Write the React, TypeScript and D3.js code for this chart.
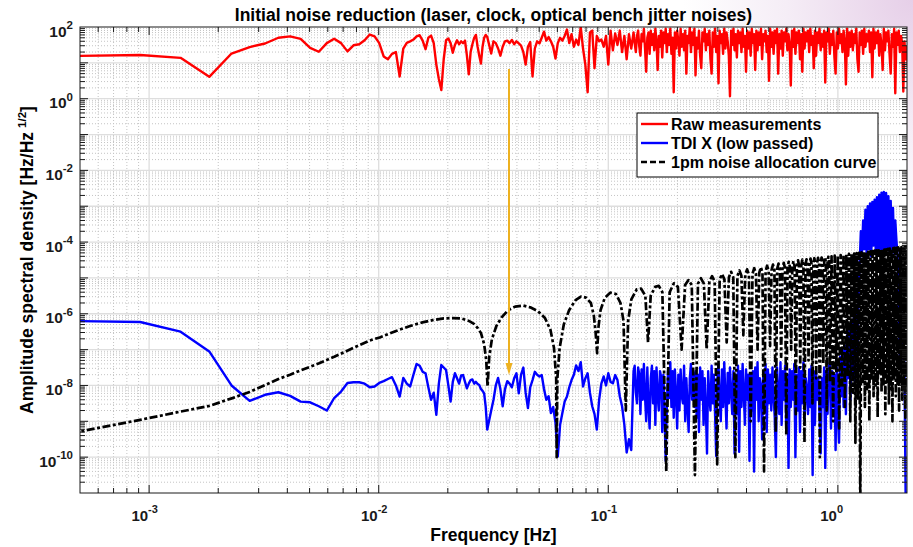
import * as d3 from 'd3';

const WIDTH = 913;
const HEIGHT = 547;
const PLOT = { left: 80, right: 907, top: 27, bottom: 493 };
const FONT = '"Liberation Sans", Arial, Helvetica, sans-serif';

// frequency sampling: first 65 FFT bins, then two log-spaced stretches
const BIN_WIDTH = 4.57e-4;
const MID_LOG_START = -1.51;
const MID_LOG_STEP = 0.01;
const HIGH_LOG_START = -0.89;
const HIGH_LOG_STEP = 0.005;

// log10 of the amplitude spectral density
const RAW_LOW = [
  1.19, 1.22, 1.14, 0.61, 1.26, 1.44, 1.54, 1.7, 1.74, 1.67,
  1.42, 1.31, 1.55, 1.67, 1.55, 1.32, 1.49, 1.52, 1.63, 1.79,
  1.74, 1.55, 1.18, 1.1, 1.25, 1.3, 0.62, 1.4, 1.56, 1.6,
  1.65, 1.74, 1.77, 1.62, 1.38, 1.7, 1.76, 1.55, 0.95, 0.55,
  0.24, 1.1, 1.63, 1.68, 1.55, 1.28, 1.5, 1.63, 1.52, 1.6,
  1.55, 1.62, 1.2, 0.68, 1.3, 1.52, 1.7, 1.78, 1.45, 1.2,
  0.98, 1.45, 1.7, 1.78, 1.72,
];
const RAW_MID = [
  1.26, 1.6, 1.55, 1.4, 1.2, 1.45, 1.6, 1.62, 1.55, 1.64,
  1.52, 1.6, 1.54, 1.48, 1.3, 0.95, 1.45, 1.58, 0.62, 1.4,
  1.6, 1.54, 1.7, 1.87, 1.62, 1.72, 1.6, 1.45, 1.12, 1.55,
  1.7, 1.62, 1.75, 1.93, 1.55, 1.8, 1.45, 1.65, 1.5, 2.0,
  1.4, 0.95, 0.18, 1.85, 1.9, 0.85, 1.75, 1.6, 1.65, 1.45,
  1.75, 0.95, 1.9, 1.35, 1.82, 1.5, 1.9, 1.3, 1.75, 1.1,
  1.8, 1.4,
];
const RAW_HIGH = [
  1.85, 1.55, 1.3, 1.75, 1.9, 1.45, 1.2, 1.8, 1.6, 1.95,
  1.4, 0.75, 1.7, 1.85, 1.25, 1.9, 1.5, 1.8, 1.35, 1.95,
  1.6, 0.8, 1.75, 1.45, 1.9, 1.15, 1.85, 1.55, 1.95, 1.3,
  1.8, 1.5, 1.95, 1.25, 1.7, 0.18, 1.85, 1.4, 1.9, 1.6,
  1.2, 1.95, 1.45, 1.8, 1.35, 1.9, 0.7, 1.75, 1.55, 2.0,
  1.3, 1.85, 1.5, 1.95, 0.65, 1.7, 1.4, 1.9, 1.2, 0.85,
  1.85, 1.6, 1.95, 1.35, 1.8, 1.5, 1.9, 1.1, 0.7, 1.85,
  1.45, 1.95, 1.3, 1.75, 0.43, 1.9, 1.55, 1.8, 1.25, 1.95,
  1.4, 1.85, 1.6, 1.2, 0.07, 1.9, 1.5, 1.95, 1.35, 1.8,
  1.15, 1.9, 1.55, 1.85, 1.3, 1.95, 1.45, 1.75, 0.75, 1.9,
  1.4, 1.85, 1.2, 1.95, 1.55, 1.8, 0.8, 1.9, 1.35, 1.85,
  1.5, 1.95, 1.1, 1.8, 1.6, 1.9, 1.3, 1.75, 0.5, 1.95,
  1.45, 1.85, 1.25, 1.9, 1.55, 1.95, 0.7, 1.8, 1.4, 1.9,
  1.2, 1.85, 1.6, 1.95, 1.35, 1.8, 1.5, 0.37, 1.9, 1.45,
  1.95, 1.25, 1.85, 1.55, 1.9, 1.1, 1.8, 0.75, 1.95, 1.4,
  1.85, 1.6, 1.9, 1.3, 1.95, 1.5, 1.75, 0.85, 1.9, 1.2,
  1.85, 1.55, 1.95, 1.35, 1.8, 1.45, 1.9, 0.45, 1.85, 1.6,
  1.95, 1.25, 1.8, 1.5, 1.9, 1.15, 0.7, 1.85, 1.4, 1.95,
  1.55, 1.8, 1.3, 1.9, 1.6, 0.4, 1.95, 1.2, 1.85, 1.45,
  1.9, 1.35, 1.8, 1.55, 1.95, 1.1, 0.75, 1.85, 1.5, 1.9,
  1.25, 1.95, 1.45, 1.8, 1.6, 1.9, 1.3, 1.85, 0.6, 1.95,
  1.4, 1.85, 1.55, 1.9, 1.2, 1.8, 1.5, 0.8, 1.95, 1.35,
  1.85, 1.6, 1.9, 1.25, 0.7, 1.8, 1.45, 1.95, 0.15, 1.85,
  1.5, 1.9, 1.3, 1.75, 1.55, 0.2, 1.6, 1.1, 1.45, 0.9,
];

const TDI_LOW = [
  -6.2, -6.23, -6.5, -7.05, -8.0, -8.43, -8.26, -8.19, -8.29, -8.45,
  -8.47, -8.58, -8.7, -8.35, -8.17, -7.93, -7.91, -7.91, -7.95, -8.05,
  -8.03, -7.93, -7.88, -7.82, -7.77, -8.0, -8.31, -7.79, -7.95, -8.03,
  -7.7, -7.4, -7.45, -7.62, -7.66, -8.05, -8.4, -8.2, -8.82, -7.95,
  -7.43, -7.5, -7.57, -8.0, -8.45, -7.9, -7.66, -7.8, -7.95, -7.72,
  -7.71, -7.9, -8.08, -7.95, -7.85, -7.83, -7.95, -7.9, -7.96, -7.99,
  -8.1, -8.15, -8.22, -8.6, -9.23,
];
const TDI_MID = [
  -8.7, -8.4, -8.0, -7.79, -8.1, -8.58, -8.1, -7.88, -7.95, -8.05,
  -7.8, -7.66, -8.22, -7.7, -7.5, -8.2, -8.63, -8.05, -7.85, -7.62,
  -7.7, -7.75, -7.71, -8.1, -8.4, -8.3, -8.77, -8.6, -9.04, -9.98,
  -9.1, -8.77, -8.45, -8.31, -8.05, -7.85, -7.7, -7.44, -7.6, -7.35,
  -8.03, -7.8, -7.66, -8.2, -8.58, -8.8, -9.23, -8.4, -7.94, -7.75,
  -8.0, -7.66, -7.9, -7.94, -7.71, -7.85, -8.3, -8.58, -9.1, -9.87,
  -9.5, -9.8,
];
const TDI_HIGH = [
  -7.6, -7.45, -8.2, -8.5, -7.5, -7.7, -8.8, -7.55, -8.4, -7.4,
  -8.3, -9.0, -7.5, -8.6, -9.2, -7.8, -7.45, -8.5, -7.6, -9.1,
  -7.5, -8.3, -8.7, -7.6, -7.75, -9.3, -7.7, -8.8, -10.1, -8.6,
  -7.6, -8.35, -7.35, -8.6, -7.6, -8.9, -7.55, -8.25, -9.2, -7.7,
  -8.7, -7.55, -8.3, -8.5, -7.45, -9.0, -7.8, -8.6, -9.3, -7.8,
  -7.4, -8.4, -7.65, -8.6, -7.6, -8.9, -7.7, -9.3, -7.5, -8.4,
  -7.6, -9.1, -7.8, -8.7, -9.9, -7.6, -8.3, -8.7, -7.45, -8.5,
  -7.7, -8.8, -9.97, -7.8, -7.4, -8.4, -9.0, -7.55, -8.6, -7.35,
  -8.3, -9.2, -7.65, -8.5, -7.5, -8.2, -8.8, -7.6, -9.9, -7.7,
  -8.8, -7.45, -9.85, -7.6, -8.6, -7.4, -8.2, -9.1, -7.55, -8.4,
  -7.7, -10.1, -7.7, -8.7, -7.6, -10.4, -7.5, -8.4, -7.35, -9.0,
  -7.8, -8.0, -9.5, -7.6, -8.6, -7.4, -9.3, -7.55, -8.5, -7.7,
  -8.7, -7.5, -8.3, -8.9, -10.0, -7.5, -8.2, -8.8, -7.35, -9.1,
  -7.6, -8.4, -7.45, -9.2, -7.7, -10.3, -7.55, -8.6, -7.6, -8.4,
  -7.4, -10.0, -7.7, -8.7, -7.5, -9.3, -7.6, -8.5, -7.35, -9.0,
  -7.8, -8.1, -8.8, -7.55, -8.6, -7.45, -10.5, -7.6, -9.1, -7.6,
  -8.4, -7.8, -8.8, -9.9, -7.8, -8.6, -7.5, -10.3, -7.6, -8.8,
  -7.5, -7.35, -9.2, -7.6, -8.6, -7.7, -9.8, -7.5, -8.8, -9.6,
  -7.2, -8.3, -7.0, -8.6, -6.9, -8.8, -6.6, -7.8, -6.4, -8.4,
  -6.2, -7.6, -6.0, -7.9, -5.8, -7.2, -5.5, -4.6, -3.7, -4.3,
  -3.4, -4.2, -3.1, -4.3, -3.0, -4.2, -2.92, -4.4, -2.88, -4.1,
  -2.82, -4.3, -2.75, -4.2, -2.68, -4.4, -2.62, -4.2, -2.6, -4.3,
  -2.63, -4.2, -2.72, -4.3, -2.85, -4.2, -3.05, -4.3, -3.4, -3.95,
  -4.4, -6.0, -7.2, -5.9, -7.4, -6.5, -7.6, -11.0, -11.0, -11.0,
];

// 1pm allocation: [frequency (Hz), log10 ASD]
const ALLOCATION: [number, number][] = [
  [0.000457, -9.33], [0.000914, -8.96], [0.00137, -8.73], [0.00183, -8.57], [0.00229, -8.36],
  [0.00274, -8.18], [0.0032, -7.99], [0.00366, -7.82], [0.00411, -7.7], [0.00457, -7.58],
  [0.0055, -7.38], [0.0064, -7.2], [0.0073, -7.03], [0.0082, -6.88], [0.0091, -6.75],
  [0.0101, -6.66], [0.0119, -6.48], [0.0137, -6.34], [0.0155, -6.24], [0.0174, -6.17],
  [0.0192, -6.13], [0.021, -6.12], [0.0229, -6.13], [0.0247, -6.2], [0.026, -6.28],
  [0.027, -6.4], [0.0279, -6.54], [0.0288, -6.85], [0.0294, -7.3], [0.0298, -8.03],
  [0.0303, -7.2], [0.0311, -6.72], [0.0325, -6.35], [0.0343, -6.1], [0.0366, -5.9],
  [0.0393, -5.8], [0.0425, -5.77], [0.0457, -5.82], [0.0494, -5.93], [0.053, -6.12],
  [0.056, -6.45], [0.058, -6.95], [0.0593, -7.8], [0.0596, -10.0],
  [0.06, -7.8], [0.0614, -6.95], [0.064, -6.3], [0.0675, -5.9], [0.072, -5.62],
  [0.076, -5.52], [0.08, -5.55], [0.084, -5.7], [0.0865, -6.05], [0.088, -6.5], [0.0894, -7.1],
  [0.0905, -6.4], [0.0925, -5.9], [0.0965, -5.56], [0.102, -5.41], [0.108, -5.45],
  [0.113, -5.7], [0.1165, -6.2], [0.1192, -8.7],
  [0.122, -6.2], [0.126, -5.6], [0.133, -5.32], [0.139, -5.3], [0.145, -5.5], [0.149, -6.8],
  [0.153, -5.5], [0.16, -5.25], [0.166, -5.22], [0.172, -5.4], [0.1788, -10.4],
  [0.185, -5.4], [0.193, -5.15], [0.201, -5.25], [0.2086, -7.0],
  [0.216, -5.2], [0.2235, -5.06], [0.231, -5.2], [0.2384, -10.5],
  [0.2458, -5.16], [0.2533, -5.01], [0.2608, -5.16], [0.2682, -7.0],
  [0.2756, -5.1], [0.2831, -4.95], [0.2906, -5.1], [0.298, -10.2],
  [0.3055, -5.04], [0.3129, -4.89], [0.3204, -5.04], [0.3278, -6.8],
  [0.3353, -4.98], [0.3427, -4.83], [0.3502, -4.98], [0.3576, -10.0],
  [0.3651, -4.94], [0.3725, -4.79], [0.38, -4.94], [0.3874, -6.6],
  [0.3949, -4.91], [0.4023, -4.76], [0.4098, -4.91], [0.4172, -9.0],
  [0.4247, -4.88], [0.4321, -4.73], [0.4396, -4.88], [0.447, -7.0],
  [0.4545, -4.85], [0.4619, -4.7], [0.4694, -4.85], [0.4768, -10.4],
  [0.4843, -4.81], [0.4917, -4.66], [0.4992, -4.81], [0.5066, -6.9],
  [0.5141, -4.78], [0.5215, -4.63], [0.529, -4.78], [0.5364, -9.3],
  [0.5439, -4.75], [0.5513, -4.6], [0.5588, -4.75], [0.5662, -7.2],
  [0.5737, -4.73], [0.5811, -4.58], [0.5886, -4.73], [0.596, -9.4],
  [0.6035, -4.7], [0.6109, -4.55], [0.6184, -4.7], [0.6258, -7.0],
  [0.6333, -4.68], [0.6407, -4.53], [0.6482, -4.68], [0.6556, -8.8],
  [0.6631, -4.66], [0.6705, -4.51], [0.678, -4.66], [0.6854, -7.5],
  [0.6929, -4.64], [0.7003, -4.49], [0.7078, -4.64], [0.7152, -9.6],
  [0.7227, -4.63], [0.7301, -4.48], [0.7376, -4.63], [0.745, -7.3],
  [0.7525, -4.61], [0.7599, -4.46], [0.7674, -4.61], [0.7748, -8.5],
  [0.7823, -4.6], [0.7897, -4.45], [0.7972, -4.6], [0.8046, -7.8],
  [0.8121, -4.59], [0.8195, -4.44], [0.827, -4.59], [0.8344, -10.0],
  [0.8419, -4.58], [0.8493, -4.43], [0.8568, -4.58], [0.8642, -7.4],
  [0.8717, -4.57], [0.8791, -4.42], [0.8866, -4.57], [0.894, -8.7],
  [0.9015, -4.56], [0.9089, -4.41], [0.9164, -4.56], [0.9238, -7.9],
  [0.9387, -4.4], [0.9536, -9.0], [0.9685, -4.38], [0.9834, -7.6],
  [0.9983, -4.37], [1.0132, -9.2], [1.0281, -4.36], [1.043, -8.0],
  [1.0579, -4.35], [1.0728, -8.6], [1.0877, -4.34], [1.1026, -7.7],
  [1.1175, -4.33], [1.1324, -9.0], [1.1473, -4.33], [1.1622, -8.2],
  [1.1771, -4.32], [1.192, -9.6], [1.2069, -4.31], [1.2218, -8.4],
  [1.2367, -4.3], [1.2516, -11.5], [1.2665, -4.29], [1.2814, -7.9],
  [1.2963, -4.28], [1.3112, -8.6], [1.3261, -4.28], [1.341, -8.1],
  [1.3559, -4.27], [1.3708, -9.0], [1.3857, -4.26], [1.4006, -7.8],
  [1.4155, -4.25], [1.4304, -8.3], [1.4453, -4.24], [1.4602, -8.0],
  [1.4751, -4.23], [1.49, -8.9], [1.5049, -4.23], [1.5198, -7.7],
  [1.5347, -4.22], [1.5496, -8.2], [1.5645, -4.21], [1.5794, -8.0],
  [1.5943, -4.21], [1.6092, -8.8], [1.6241, -4.2], [1.639, -7.9],
  [1.6539, -4.19], [1.6688, -8.5], [1.6837, -4.18], [1.6986, -8.1],
  [1.7135, -4.18], [1.7284, -9.0], [1.7433, -4.17], [1.7582, -7.8],
  [1.7731, -4.16], [1.788, -8.3], [1.8029, -4.16], [1.8178, -8.0],
  [1.8327, -4.15], [1.8476, -8.7], [1.8625, -4.15], [1.8774, -7.9],
  [1.8923, -4.14], [1.9072, -8.4], [1.9221, -4.13], [1.937, -8.1],
  [1.9519, -4.13], [1.9668, -8.9], [1.9817, -4.12], [1.9966, -8.0],
  [2.0115, -4.12],
];

const X_LABEL_EXP = [-3, -2, -1, 0];
const Y_LABEL_EXP = [2, 0, -2, -4, -6, -8, -10];
const LEGEND_LABELS = ['Raw measurements', 'TDI X (low passed)', '1pm noise allocation curve'];
const SERIES_COLORS = ['#ff0000', '#0000ff', '#000000'];
const ARROW_COLOR = '#EDB120';

function spectrum(low: number[], mid: number[], high: number[]): [number, number][] {
  return [
    ...low.map((v, i) => [(i + 1) * BIN_WIDTH, 10 ** v] as [number, number]),
    ...mid.map((v, i) => [10 ** (MID_LOG_START + i * MID_LOG_STEP), 10 ** v] as [number, number]),
    ...high.map((v, i) => [10 ** (HIGH_LOG_START + i * HIGH_LOG_STEP), 10 ** v] as [number, number]),
  ];
}

function logTicks(lo: number, hi: number, kFrom: number, kTo: number) {
  const major: number[] = [];
  const minor: number[] = [];
  for (let k = kFrom; k <= kTo; k++) {
    for (let m = 1; m <= 9; m++) {
      const v = m * 10 ** k;
      if (v <= lo * 1.001 || v >= hi * 0.999) continue;
      (m === 1 ? major : minor).push(v);
    }
  }
  return { major, minor };
}

export default function App() {
  const x = d3.scaleLog().domain([5e-4, 2]).range([PLOT.left, PLOT.right]);
  const y = d3.scaleLog().domain([1e-11, 1e2]).range([PLOT.bottom, PLOT.top]);
  const line = d3
    .line<[number, number]>()
    .x((d) => x(d[0]))
    .y((d) => y(d[1]));

  const raw = spectrum(RAW_LOW, RAW_MID, RAW_HIGH);
  const tdi = spectrum(TDI_LOW, TDI_MID, TDI_HIGH);
  const alloc = ALLOCATION.map(([f, v]) => [f, 10 ** v] as [number, number]);

  const xt = logTicks(5e-4, 2, -4, 0);
  const yt = logTicks(1e-11, 1e2, -11, 1);
  const w = PLOT.right - PLOT.left;
  const h = PLOT.bottom - PLOT.top;
  const midX = (PLOT.left + PLOT.right) / 2;
  const midY = (PLOT.top + PLOT.bottom) / 2;

  const MAJOR = 8;
  const MINOR = 5;
  const axisColor = '#1a1a1a';

  return (
    <svg
      width={WIDTH}
      height={HEIGHT}
      viewBox={`0 0 ${WIDTH} ${HEIGHT}`}
      style={{ position: 'absolute', left: 0, top: 0, fontFamily: FONT }}
    >
      <defs>
        <radialGradient id="corner-glow" cx={WIDTH} cy={0} r={230} gradientUnits="userSpaceOnUse">
          <stop offset="0" stopColor="#e6cfe8" />
          <stop offset="0.55" stopColor="#f5edf6" />
          <stop offset="1" stopColor="#ffffff" />
        </radialGradient>
        <clipPath id="plot-clip">
          <rect x={PLOT.left} y={PLOT.top} width={w} height={h} />
        </clipPath>
      </defs>

      <rect width={WIDTH} height={HEIGHT} fill="url(#corner-glow)" />
      <rect x={PLOT.left} y={PLOT.top} width={w} height={h} fill="#fff" />

      {/* grid */}
      <g>
        {xt.minor.map((f) => (
          <line key={`xm${f}`} x1={x(f)} x2={x(f)} y1={PLOT.top} y2={PLOT.bottom}
            stroke="#c4c4c4" strokeWidth={1} strokeDasharray="1,2" />
        ))}
        {yt.minor.map((v) => (
          <line key={`ym${v}`} x1={PLOT.left} x2={PLOT.right} y1={y(v)} y2={y(v)}
            stroke="#c4c4c4" strokeWidth={1} strokeDasharray="1,2" />
        ))}
        {xt.major.map((f) => (
          <line key={`xg${f}`} x1={x(f)} x2={x(f)} y1={PLOT.top} y2={PLOT.bottom}
            stroke="#dedede" strokeWidth={1.3} />
        ))}
        {yt.major.map((v) => (
          <line key={`yg${v}`} x1={PLOT.left} x2={PLOT.right} y1={y(v)} y2={y(v)}
            stroke="#dedede" strokeWidth={1.3} />
        ))}
      </g>

      {/* series */}
      <g clipPath="url(#plot-clip)" fill="none" strokeLinejoin="round">
        <path d={line(raw) ?? ''} stroke={SERIES_COLORS[0]} strokeWidth={2.4} />
        <path d={line(tdi) ?? ''} stroke={SERIES_COLORS[1]} strokeWidth={2.4} />
        <path d={line(alloc) ?? ''} stroke={SERIES_COLORS[2]} strokeWidth={2.7}
          strokeDasharray="8,2.5,3,2.5" />
      </g>

      {/* annotation arrow */}
      <line x1={509} x2={509} y1={69} y2={364} stroke={ARROW_COLOR} strokeWidth={2} />
      <path d="M505.5,363 L512.5,363 L509,375 Z" fill={ARROW_COLOR} />

      {/* axes box and ticks */}
      <g stroke={axisColor} strokeWidth={1}>
        <rect x={PLOT.left} y={PLOT.top} width={w} height={h} fill="none" />
        {[...xt.major.map((f) => [f, MAJOR]), ...xt.minor.map((f) => [f, MINOR])].map(([f, len]) => (
          <g key={`xt${f}`}>
            <line x1={x(f)} x2={x(f)} y1={PLOT.bottom} y2={PLOT.bottom - len} />
            <line x1={x(f)} x2={x(f)} y1={PLOT.top} y2={PLOT.top + len} />
          </g>
        ))}
        {[...yt.major.map((v) => [v, MAJOR]), ...yt.minor.map((v) => [v, MINOR])].map(([v, len]) => (
          <g key={`yt${v}`}>
            <line x1={PLOT.left} x2={PLOT.left + len} y1={y(v)} y2={y(v)} />
            <line x1={PLOT.right} x2={PLOT.right - len} y1={y(v)} y2={y(v)} />
          </g>
        ))}
      </g>

      {/* tick labels */}
      <g fill={axisColor} fontWeight="bold">
        {Y_LABEL_EXP.map((k) => (
          <text key={`yl${k}`} x={73} y={y(10 ** k) + 9.5} textAnchor="end" fontSize={15.5}>
            10<tspan dy={-7.5} fontSize={11.5}>{k}</tspan>
          </text>
        ))}
        {X_LABEL_EXP.map((k) => (
          <g key={`xl${k}`}>
            <text x={x(10 ** k) - 1} y={521} textAnchor="end" fontSize={15}>10</text>
            <text x={x(10 ** k) - 1} y={513} fontSize={11}>{k}</text>
          </g>
        ))}
      </g>

      {/* titles */}
      <g fill="#000" fontWeight="bold" fontSize={17.5} textAnchor="middle">
        <text x={midX} y={20.5}>
          Initial noise reduction (laser, clock, optical bench jitter noises)
        </text>
        <text x={midX} y={541}>Frequency [Hz]</text>
        <text transform={`translate(33,${midY}) rotate(-90)`}>
          Amplitude spectral density [Hz/Hz
          <tspan dx={4} dy={-7} fontSize={11.5}>1/2</tspan>
          <tspan dy={7}>]</tspan>
        </text>
      </g>

      {/* legend */}
      <g>
        <rect x={637} y={113} width={241} height={64} fill="#fff" stroke="#000" strokeWidth={1} />
        {LEGEND_LABELS.map((label, i) => {
          const ly = 124 + i * 19;
          return (
            <g key={label}>
              <line x1={641} x2={668} y1={ly} y2={ly} stroke={SERIES_COLORS[i]} strokeWidth={2.4}
                strokeDasharray={i === 2 ? '6,3' : undefined} />
              <text x={671} y={ly + 5.5} fontSize={16} fontWeight="bold" fill="#000">
                {label}
              </text>
            </g>
          );
        })}
      </g>
    </svg>
  );
}
